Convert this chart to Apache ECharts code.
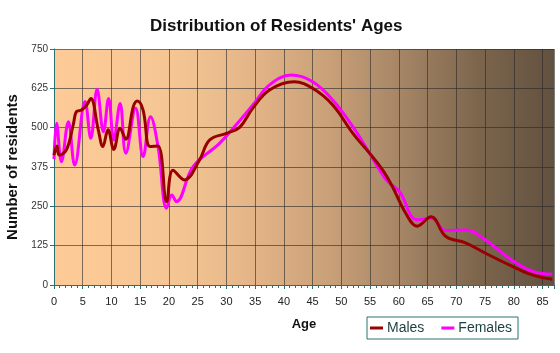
<!DOCTYPE html>
<html>
<head>
<meta charset="utf-8">
<script src="https://cdn.jsdelivr.net/npm/echarts@6/dist/echarts.min.js"></script>
<style>
  html, body { margin: 0; padding: 0; background: #fff; }
  #chart { width: 560px; height: 353px; }
</style>
</head>
<body>
<div id="chart"></div>
<script>
// ages / residents
var maleAges = [0, 0.5, 0.9, 2.2, 3.4, 3.9, 4.8, 5.7, 6.4, 7.7, 8.5, 9.4, 10.4, 11.5, 12.5, 13.8, 14.5, 15.5, 16.7, 18.1, 19.6, 20.7, 22.7, 25.3, 27.1, 30, 32.3, 34.6, 37.5, 41.8, 45, 48.5, 52, 54.9, 57.2, 58.9, 61.2, 63.2, 65.6, 68.2, 71.6, 75.1, 79.2, 83.2, 86.7];
var maleValues = [413, 442, 413, 431, 514, 551, 556, 572, 593, 493, 440, 493, 431, 498, 463, 567, 585, 556, 440, 442, 265, 365, 334, 397, 461, 482, 501, 562, 620, 646, 625, 572, 482, 419, 365, 312, 228, 187, 217, 154, 134, 101, 64, 32, 18];

var femaleAges = [0, 0.45, 1.3, 2.5, 3.6, 5.4, 6.4, 7.5, 8.6, 9.5, 10.4, 11.5, 12.5, 14.2, 15.5, 16.8, 18.1, 19.6, 20.5, 21.3, 24.2, 28.8, 31.7, 34.6, 37.5, 41.3, 45, 48.5, 52, 54.9, 57.8, 60.1, 63.2, 65.6, 68.2, 71.6, 75.1, 79.2, 83.2, 86.7];
var femaleValues = [400, 514, 392, 519, 381, 583, 466, 622, 487, 593, 461, 577, 419, 562, 408, 535, 440, 244, 286, 265, 376, 450, 509, 572, 636, 667, 646, 588, 503, 419, 334, 297, 207, 212, 173, 175, 143, 85, 44, 34];

var yTicks = [0, 125, 250, 375, 500, 625, 750];

function pairs(xs, ys) {
  var out = [];
  xs.forEach(function (x, i) { out.push([x, ys[i]]); });
  return out;
}

var myChart = echarts.init(document.getElementById('chart'));
var font = 'Liberation Sans, Arial, sans-serif';

myChart.setOption({
  animation: false,
  title: {
    text: "Distribution of Residents' Ages",
    left: 145,
    top: 13,
    textStyle: { fontFamily: font, fontSize: 17, fontWeight: 'bold', color: '#111' }
  },
  legend: {
    left: 367,
    top: 317,
    itemWidth: 13,
    itemHeight: 3,
    itemGap: 17,
    padding: [4, 6, 4, 3],
    borderColor: '#2a7070',
    borderWidth: 1,
    icon: 'rect',
    textStyle: { fontFamily: font, fontSize: 14, color: '#1a3f3f', padding: [0, 0, 0, -1] },
    data: ['Males', 'Females']
  },
  grid: {
    left: 54,
    right: 6,
    top: 49,
    height: 236,
    outerBoundsMode: 'none',
    containLabel: false,
    show: true,
    borderWidth: 0,
    backgroundColor: {
      type: 'linear', x: 0, y: 0, x2: 1, y2: 0,
      colorStops: [
        { offset: 0, color: '#fecb98' },
        { offset: 0.25, color: '#f4c593' },
        { offset: 0.4, color: '#e3b487' },
        { offset: 0.55, color: '#c9a078' },
        { offset: 0.7, color: '#a48465' },
        { offset: 0.85, color: '#7c654c' },
        { offset: 1, color: '#625140' }
      ]
    }
  },
  xAxis: {
    type: 'value',
    min: 0,
    max: 87,
    interval: 5,
    name: 'Age',
    nameLocation: 'middle',
    nameGap: 33,
    nameTextStyle: { fontFamily: font, fontSize: 13, fontWeight: 'bold', color: '#111' },
    axisLine: { lineStyle: { color: '#2a7070', width: 1 } },
    axisTick: { show: true, length: 4, lineStyle: { color: '#2a7070' } },
    minorTick: { show: true, splitNumber: 5, length: 3, lineStyle: { color: '#2a7070' } },
    axisLabel: { fontFamily: font, fontSize: 11, color: '#222', margin: 11, showMaxLabel: false },
    splitLine: { show: true, lineStyle: { color: 'rgba(40,40,40,0.6)', width: 1 } }
  },
  yAxis: {
    type: 'value',
    min: yTicks[0],
    max: yTicks[yTicks.length - 1],
    interval: 125,
    name: 'Number of residents',
    nameLocation: 'middle',
    nameGap: 33,
    nameTextStyle: { fontFamily: font, fontSize: 15, fontWeight: 'bold', color: '#111' },
    axisLine: { show: true, lineStyle: { color: '#2a7070', width: 1 } },
    axisTick: { show: true, length: 4, lineStyle: { color: '#2a7070' } },
    axisLabel: { fontFamily: font, fontSize: 10, color: '#333', margin: 6 },
    splitLine: { show: true, lineStyle: { color: 'rgba(40,40,40,0.6)', width: 1 } }
  },
  series: [
    {
      name: 'Males',
      type: 'line',
      smooth: 0.4,
      symbol: 'none',
      lineStyle: { color: '#990000', width: 3 },
      itemStyle: { color: '#990000' },
      data: pairs(maleAges, maleValues),
      z: 3
    },
    {
      name: 'Females',
      type: 'line',
      smooth: 0.4,
      symbol: 'none',
      lineStyle: { color: '#ff00ff', width: 3 },
      itemStyle: { color: '#ff00ff' },
      data: pairs(femaleAges, femaleValues),
      z: 2
    }
  ]
});
</script>
</body>
</html>
